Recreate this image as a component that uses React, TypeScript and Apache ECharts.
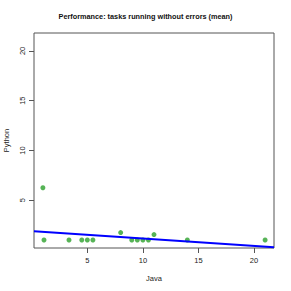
import React, { useEffect, useRef } from "react";
import * as echarts from "echarts";

const javaValues = [1.0, 1.1, 3.35, 4.5, 5.0, 5.5, 8.0, 9.0, 9.5, 10.0, 10.5, 11.0, 14.0, 21.0];
const pythonValues = [6.25, 1.0, 1.0, 1.0, 1.0, 1.0, 1.75, 1.0, 1.0, 1.0, 1.0, 1.55, 1.0, 1.0];
const fitIntercept = 1.89;
const fitSlope = -0.074;
const xTicks = [5, 10, 15, 20];
const yTicks = [5, 10, 15, 20];
const axisRange = [0.2, 21.8];

export default function App() {
  const ref = useRef<HTMLDivElement>(null);
  useEffect(() => {
    const chart = echarts.init(ref.current!, null, { renderer: "svg" });
    const font = "Liberation Sans, Arial, sans-serif";
    const fitLine = axisRange.map((x) => [x, fitIntercept + fitSlope * x]);
    chart.setOption({
      animation: false,
      title: {
        text: "Performance: tasks running without errors (mean)",
        left: "center",
        top: 8,
        textStyle: { fontFamily: font, fontSize: 7.3, fontWeight: "bold", color: "#111" },
      },
      grid: {
        left: 34,
        right: 17,
        top: 33,
        bottom: 43,
        show: true,
        borderColor: "#555",
        borderWidth: 1,
        backgroundColor: "transparent",
        outerBoundsMode: "none",
        containLabel: false,
      },
      xAxis: {
        type: "value",
        min: axisRange[0],
        max: axisRange[1],
        name: "Java",
        nameLocation: "middle",
        nameGap: 26,
        nameTextStyle: { fontFamily: font, fontSize: 7.5, color: "#222" },
        axisLine: { show: false },
        splitLine: { show: false },
        axisTick: { show: true, length: 5, lineStyle: { color: "#555" }, customValues: xTicks },
        axisLabel: { fontFamily: font, fontSize: 7.5, color: "#222", margin: 8, customValues: xTicks },
      },
      yAxis: {
        type: "value",
        min: axisRange[0],
        max: axisRange[1],
        name: "Python",
        nameLocation: "middle",
        nameRotate: 90,
        nameGap: 23,
        nameTextStyle: { fontFamily: font, fontSize: 7.5, color: "#222" },
        axisLine: { show: false },
        splitLine: { show: false },
        axisTick: { show: true, length: 5, lineStyle: { color: "#555" }, customValues: yTicks },
        axisLabel: { fontFamily: font, fontSize: 7.5, color: "#222", margin: 8, rotate: 90, customValues: yTicks },
      },
      series: [
        {
          type: "scatter",
          data: javaValues.map((x, i) => [x, pythonValues[i]]),
          symbolSize: 5,
          itemStyle: { color: "#2ca02c" },
          z: 2,
        },
        {
          type: "line",
          data: fitLine,
          showSymbol: false,
          lineStyle: { color: "#0000ff", width: 2 },
          z: 3,
        },
      ],
    });
    return () => chart.dispose();
  }, []);
  return <div ref={ref} style={{ width: 291, height: 291, position: "absolute", left: 0, top: 0 }} />;
}
